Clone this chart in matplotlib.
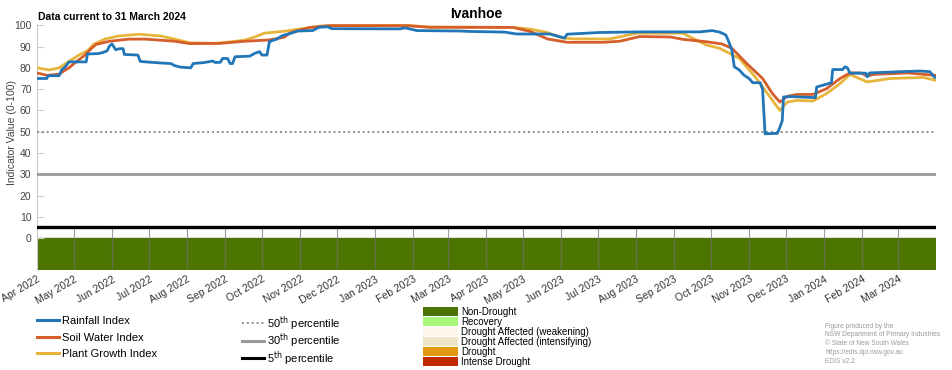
import matplotlib
matplotlib.use("Agg")
import matplotlib.pyplot as plt
import matplotlib.dates as mdates
from matplotlib.lines import Line2D
from matplotlib.patches import Patch
import pandas as pd

plt.rcParams['font.family'] = ['Liberation Sans', 'DejaVu Sans']

station = "Ivanhoe"
data_note = "Data current to 31 March 2024"

# Rainfall Index
rain_dates = ["2022-04-01", "2022-04-09", "2022-04-10", "2022-04-19", "2022-04-21", "2022-04-24", "2022-04-27",
              "2022-05-11", "2022-05-12", "2022-05-21", "2022-05-25", "2022-05-28", "2022-05-30", "2022-06-01",
              "2022-06-04", "2022-06-07", "2022-06-10", "2022-06-11", "2022-06-22", "2022-06-24", "2022-07-10",
              "2022-07-19", "2022-07-22", "2022-07-27", "2022-08-04", "2022-08-06", "2022-08-15", "2022-08-22",
              "2022-08-24", "2022-08-28", "2022-08-30", "2022-09-03", "2022-09-05", "2022-09-07", "2022-09-09",
              "2022-09-21", "2022-09-25", "2022-09-29", "2022-10-01", "2022-10-05", "2022-10-07", "2022-10-13",
              "2022-10-17", "2022-10-24", "2022-10-30", "2022-11-11", "2022-11-16", "2022-11-23", "2022-11-27",
              "2023-01-21", "2023-01-25", "2023-01-29", "2023-02-04", "2023-03-11", "2023-03-19", "2023-04-16",
              "2023-04-26", "2023-05-23", "2023-06-04", "2023-06-06", "2023-07-02", "2023-08-04", "2023-09-22",
              "2023-10-02", "2023-10-08", "2023-10-13", "2023-10-15", "2023-10-18", "2023-10-20", "2023-10-24",
              "2023-10-28", "2023-11-01", "2023-11-04", "2023-11-10", "2023-11-12", "2023-11-14", "2023-11-24",
              "2023-11-26", "2023-11-28", "2023-11-29", "2023-12-04", "2023-12-25", "2023-12-26", "2024-01-01",
              "2024-01-07", "2024-01-08", "2024-01-16", "2024-01-18", "2024-01-20", "2024-01-22", "2024-02-04",
              "2024-02-05", "2024-02-07", "2024-03-03", "2024-03-19", "2024-03-27", "2024-03-31"]
rain_vals = [75, 75, 76.3, 76.3, 79, 80.5, 82.8,
             82.8, 86.5, 86.7, 87.3, 88, 90.3, 91.2,
             88.5, 89, 89, 86.3, 86, 83, 82.3,
             82, 81, 80.3, 80, 82, 82.5, 83.2,
             82.5, 82.6, 84.4, 84.4, 82, 82, 85.2,
             85.5, 86.8, 87.6, 86, 86, 92.3, 93.5,
             95, 96.2, 97.3, 97.5, 99, 99.3, 98.4,
             98.3, 98.8, 98.3, 97.5, 97.3, 97.1, 96.8,
             95.9, 95.9, 94, 95.8, 96.6, 96.9, 96.9,
             97.5, 96.8, 95.5, 93, 88.4, 80.5, 79,
             76.5, 75, 73, 73, 70, 49, 49.2,
             52, 55.2, 66.3, 66.5, 66, 71, 72,
             73, 79.2, 79.2, 80.5, 80, 77.5, 77.5,
             75.8, 77.6, 78.2, 78.5, 78.2, 75.5]

# Soil Water Index
soil_dates = ["2022-04-01", "2022-04-09", "2022-04-19", "2022-04-23", "2022-04-27", "2022-05-03", "2022-05-10",
              "2022-05-15", "2022-05-19", "2022-05-30", "2022-06-15", "2022-06-28", "2022-07-10", "2022-07-22",
              "2022-08-03", "2022-08-28", "2022-09-17", "2022-10-07", "2022-10-19", "2022-10-24", "2022-11-09",
              "2022-11-25", "2023-01-27", "2023-02-14", "2023-04-23", "2023-05-07", "2023-05-21", "2023-06-06",
              "2023-07-05", "2023-07-19", "2023-08-04", "2023-08-29", "2023-09-08", "2023-09-27", "2023-10-10",
              "2023-10-18", "2023-10-30", "2023-11-12", "2023-11-20", "2023-11-26", "2023-12-02", "2023-12-10",
              "2023-12-23", "2024-01-03", "2024-01-14", "2024-01-22", "2024-01-31", "2024-02-05", "2024-02-10",
              "2024-03-09", "2024-03-31"]
soil_vals = [77.6, 76.5, 77, 78.6, 80, 82.9, 86,
             89, 91, 92.5, 93.5, 93.5, 93, 92.5,
             91.4, 91.5, 92.5, 93.1, 94.4, 96.5, 99,
             99.8, 99.8, 99.1, 99, 97.1, 93.6, 92,
             92, 92.5, 94.7, 94.5, 93.4, 92.3, 91.2,
             89.2, 82.1, 75, 67.9, 63.9, 66.6, 67.5,
             67.5, 70.2, 75, 77.6, 77.6, 76.1, 76.9,
             77.6, 76.5]

# Plant Growth Index
plant_dates = ["2022-04-01", "2022-04-11", "2022-04-19", "2022-04-27", "2022-05-05", "2022-05-12", "2022-05-17",
               "2022-05-26", "2022-06-07", "2022-06-23", "2022-07-10", "2022-07-22", "2022-08-03", "2022-08-24",
               "2022-09-05", "2022-09-17", "2022-09-25", "2022-10-03", "2022-10-19", "2022-10-31", "2022-11-16",
               "2022-11-25", "2023-01-29", "2023-02-14", "2023-04-23", "2023-05-07", "2023-05-21", "2023-06-02",
               "2023-06-12", "2023-07-11", "2023-08-02", "2023-09-08", "2023-09-27", "2023-10-08", "2023-10-24",
               "2023-11-07", "2023-11-20", "2023-11-26", "2023-12-02", "2023-12-10", "2023-12-23", "2024-01-03",
               "2024-01-14", "2024-01-22", "2024-02-05", "2024-02-24", "2024-03-22", "2024-03-31"]
plant_vals = [80, 79, 80, 83, 86, 88, 91,
              93.5, 95, 95.8, 95, 93.5, 91.8, 91.5,
              92.2, 93, 94.5, 96.3, 97.2, 98.2, 99.5,
              99.9, 99.9, 99.1, 99, 98.2, 96.6, 94,
              93.6, 93.6, 96.3, 96.3, 90.8, 89.2, 84.5,
              75, 64.7, 60, 63.9, 64.7, 64.4, 67.9,
              72.6, 76.9, 73.4, 75, 75.5, 74.2]

percentiles = [50, 30, 5]
drought_labels = ["Non-Drought", "Recovery", "Drought Affected (weakening)",
                  "Drought Affected (intensifying)", "Drought", "Intense Drought"]
drought_colors = ["#4c7400", "#a6f77c", "#fdf6ec", "#eee4c6", "#e1970f", "#bf2a05"]
credit_lines = ["Figure produced by the", "NSW Department of Primary Industries",
                "\u00a9 State of New South Wales", "https://edis.dpi.nsw.gov.au", "EDIS v2.2"]

c_rain = "#2176b8"
c_soil = "#d55e2b"
c_plant = "#e8b53c"

start = pd.Timestamp("2022-04-01")
end = pd.Timestamp("2024-04-01")

fig = plt.figure(figsize=(9.52, 3.70), dpi=100)
ax = fig.add_axes([37 / 952, 1 - 270 / 370, 899 / 952, 246 / 370])

# drought category band below zero (whole period is Non-Drought)
ax.axhspan(-15, 0, color=drought_colors[0], zorder=1)
months = pd.date_range(start, end, freq="MS")
for m in months[1:-1]:
    ax.plot([m, m], [-15, 5], color="#9a9a9a", lw=0.8, zorder=2)
    ax.plot([m, m], [-15, 0], color="#2f4a00", lw=0.6, zorder=2, alpha=0.6)

# percentile reference lines
ax.axhline(percentiles[0], color="#8c8c8c", lw=1.4, ls=(0, (1, 1.5)), zorder=3)
ax.axhline(percentiles[1], color="#999999", lw=2.0, zorder=3)
ax.axhline(percentiles[2], color="black", lw=2.4, zorder=3)

ax.plot(pd.to_datetime(plant_dates), plant_vals, color=c_plant, lw=2.0, zorder=4)
ax.plot(pd.to_datetime(soil_dates), soil_vals, color=c_soil, lw=2.0, zorder=5)
ax.plot(pd.to_datetime(rain_dates), rain_vals, color=c_rain, lw=2.0, zorder=6)

ax.set_xlim(start, end)
ax.set_ylim(-15, 100.6)
ax.set_yticks(range(0, 101, 10))
ax.tick_params(axis="y", direction="in", length=5, color="#cccccc", labelsize=7.5,
               labelcolor="#444444", pad=4)
ax.xaxis.set_major_formatter(mdates.DateFormatter("%b %Y"))
ax.set_xticks(months[:-1])
ax.tick_params(axis="x", length=0, labelsize=7.5, labelcolor="#333333", pad=3)
for lab in ax.get_xticklabels():
    lab.set_rotation(30)
    lab.set_ha("right")
    lab.set_rotation_mode("anchor")
for s in ["top", "right", "bottom"]:
    ax.spines[s].set_visible(False)
ax.spines["left"].set_color("#cccccc")
ax.set_ylabel("Indicator Value (0-100)", fontsize=7.5, color="#444444")
ax.yaxis.set_label_coords(-0.022, 0.56)

fig.text(0.5, 1 - 14 / 370, station, ha="center", va="center", fontsize=10, fontweight="bold")
fig.text(38 / 952, 1 - 17 / 370, data_note, ha="left", va="center", fontsize=7.5, fontweight="bold")

# legends
idx_handles = [Line2D([], [], color=c, lw=2.2) for c in (c_rain, c_soil, c_plant)]
fig.legend(idx_handles, ["Rainfall Index", "Soil Water Index", "Plant Growth Index"],
           loc="upper left", bbox_to_anchor=(37 / 952, 1 - 316 / 370), frameon=False,
           fontsize=8, handlelength=2.0, handletextpad=0.25, labelspacing=0.6,
           borderaxespad=0, borderpad=0)

pct_handles = [Line2D([], [], color="#8c8c8c", lw=1.4, ls=(0, (1, 1.5))),
               Line2D([], [], color="#999999", lw=2.2),
               Line2D([], [], color="black", lw=2.2)]
pct_labels = [f"{p}$^{{\\rm th}}$ percentile" for p in percentiles]
fig.legend(pct_handles, pct_labels, loc="upper left", bbox_to_anchor=(242 / 952, 1 - 314 / 370),
           frameon=False, fontsize=8, handlelength=2.0, handletextpad=0.25, labelspacing=-0.1,
           borderaxespad=0, borderpad=0)

cat_handles = [Patch(facecolor=c, edgecolor="none") for c in drought_colors]
fig.legend(cat_handles, drought_labels, loc="upper left", bbox_to_anchor=(423 / 952, 1 - 307 / 370),
           frameon=False, prop={"family": ["Liberation Sans Narrow", "Liberation Sans"], "size": 7},
           handlelength=3.6, handleheight=0.95, handletextpad=0.35, labelspacing=0.0,
           borderaxespad=0, borderpad=0)

for i, line in enumerate(credit_lines):
    fig.text(825 / 952, 1 - (326 + i * 8.8) / 370, line, ha="left", va="center",
             fontsize=4.8, color="#9a9a9a")

fig.savefig("out.png", dpi=100)
